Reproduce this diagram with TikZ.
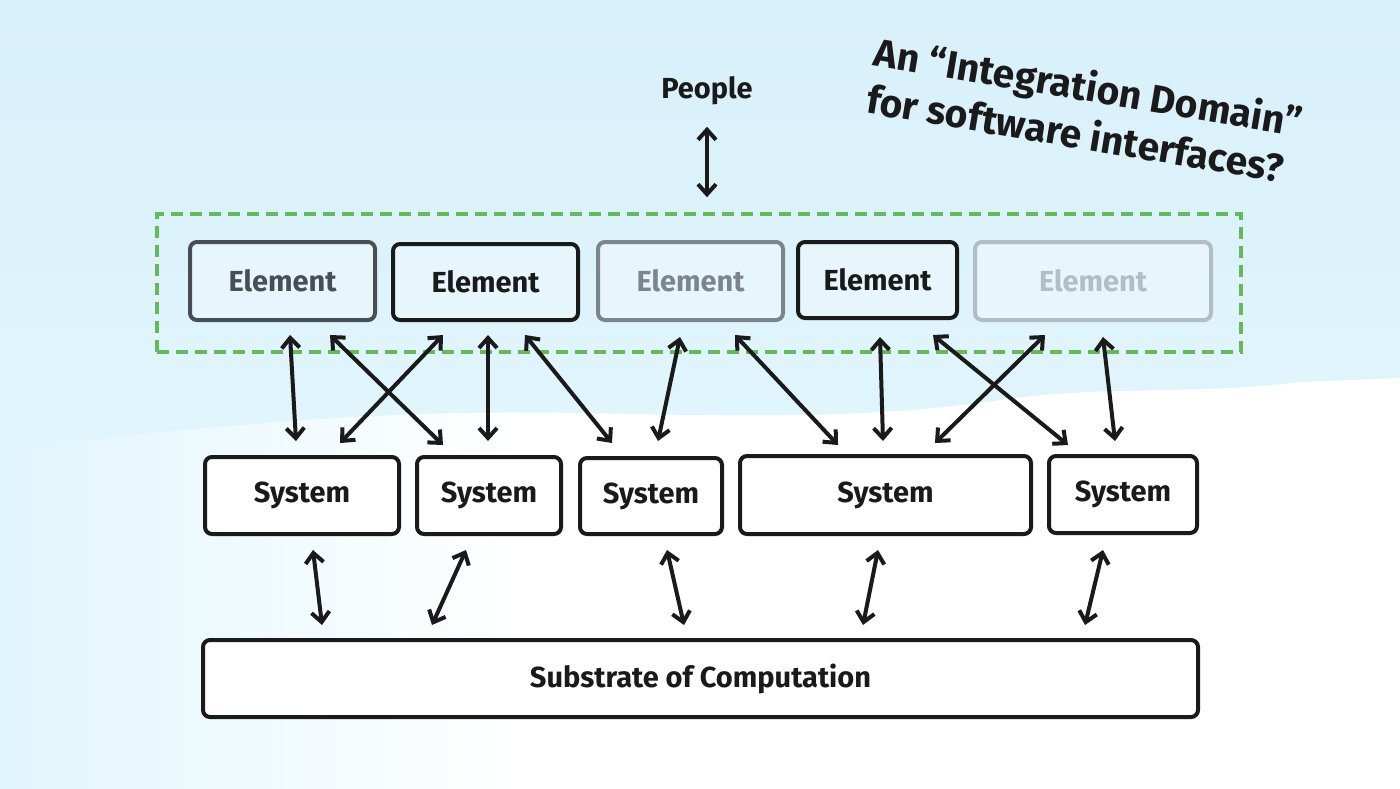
\documentclass[tikz,border=0pt]{standalone}
\usepackage{fontspec}
\setmainfont{Fira Sans}
\usetikzlibrary{arrows.meta,calc}
\definecolor{bgtop}{RGB}{216,240,251}
\definecolor{bgmid}{RGB}{225,245,252}
\definecolor{dashgreen}{RGB}{100,186,90}
\definecolor{ink}{RGB}{26,26,26}
\definecolor{eone}{RGB}{72,78,84}
\definecolor{ethree}{RGB}{125,133,140}
\definecolor{efive}{RGB}{178,190,196}
\begin{document}
\begin{tikzpicture}[x=1pt,y=-1pt,
  box/.style={draw=ink, line width=4pt, rounded corners=7pt, inner sep=0pt,
              font=\bfseries\fontsize{29}{32}\selectfont, text=ink},
  elem/.style={box, fill=white, fill opacity=0.3, text opacity=1},
  sys/.style={box, fill=white},
  arr/.style={draw=ink, line width=4pt, line cap=round,
              {Straight Barb[length=10pt,width=18pt]}-{Straight Barb[length=10pt,width=18pt]}},
]
\useasboundingbox (0,0) rectangle (1400,788);
% background
\fill[white] (0,0) rectangle (1400,788);
\shade[left color=bgmid, right color=white] (0,400) rectangle (520,788);
\shade[top color=bgtop, bottom color=bgmid]
  (0,0) -- (1400,0) -- (1400,378) -- (1300,382) .. controls (1200,395) and (1100,385) .. (1000,400)
  .. controls (800,430) and (600,405) .. (400,415) .. controls (250,420) and (100,440) .. (0,448) -- cycle;

% integration domain
\node[draw=dashgreen, dash pattern=on 12pt off 7pt, line width=3.6pt,
      minimum width=1084pt, minimum height=138pt, inner sep=0pt] (dom) at (699,283) {};

% people
\node[font=\bfseries\fontsize{29}{32}\selectfont, text=ink] (people) at (707,91) {People};
\draw[arr] ($(people.south)+(0,18)$) -- ($(dom.north)+(8,-15)$);

% elements
\node[elem, draw=eone, text=eone, minimum width=185pt, minimum height=78pt] (E1) at (282.5,281) {Element};
\node[elem, minimum width=185pt, minimum height=76pt] (E2) at (485.5,282) {Element};
\node[elem, draw=ethree, text=ethree, minimum width=185pt, minimum height=78pt] (E3) at (690.5,281) {Element};
\node[elem, minimum width=159pt, minimum height=76pt] (E4) at (877.5,280) {Element};
\node[elem, draw=efive, text=efive, minimum width=236pt, minimum height=78pt] (E5) at (1093,281) {Element};

% systems
\node[sys, minimum width=194pt, minimum height=77pt] (S1) at (302,495.5) {System};
\node[sys, minimum width=144pt, minimum height=77pt] (S2) at (489,495.5) {System};
\node[sys, minimum width=142pt, minimum height=76pt] (S3) at (651,496) {System};
\node[sys, minimum width=291pt, minimum height=78pt] (S4) at (885.5,495) {System};
\node[sys, minimum width=148pt, minimum height=77pt] (S5) at (1123,494.5) {System};

% substrate
\node[sys, minimum width=995pt, minimum height=77pt] (sub) at (700.5,678.5) {Substrate of Computation};

% element <-> system
\draw[arr] ($(E1.south)+(7.5,13)$) -- ($(S1.north)+(-6,-14)$);
\draw[arr] ($(E1.south)+(47.5,13)$) -- ($(S2.north)+(-46,-10)$);
\draw[arr] ($(E2.south)+(-42.5,13)$) -- ($(S1.north)+(38,-12)$);
\draw[arr] ($(E2.south)+(2.5,13)$) -- ($(S2.north)+(-1,-14)$);
\draw[arr] ($(E2.south)+(39.5,13)$) -- ($(S3.north)+(-39,-13)$);
\draw[arr] ($(E3.south)+(-10.5,15)$) -- ($(S3.north)+(7,-15)$);
\draw[arr] ($(E3.south)+(44.5,13)$) -- ($(S4.north)+(-47.5,-9)$);
\draw[arr] ($(E4.south)+(2.5,17)$) -- ($(S4.north)+(-2.5,-13)$);
\draw[arr] ($(E4.south)+(55.5,15)$) -- ($(S5.north)+(-55,-9)$);
\draw[arr] ($(E5.south)+(-48,13)$) -- ($(S4.north)+(49.5,-11)$);
\draw[arr] ($(E5.south)+(10,15)$) -- ($(S5.north)+(-8,-13)$);

% system <-> substrate
\draw[arr] ($(S1.south)+(11,14)$) -- ($(sub.north)+(-378.5,-13)$);
\draw[arr] ($(S2.south)+(-23,14)$) -- ($(sub.north)+(-268.5,-13)$);
\draw[arr] ($(S3.south)+(16,14)$) -- ($(sub.north)+(-16.5,-13)$);
\draw[arr] ($(S4.south)+(-7.5,14)$) -- ($(sub.north)+(162.5,-13)$);
\draw[arr] ($(S5.south)+(-20,15)$) -- ($(sub.north)+(384.5,-13)$);

% title
\node[rotate=-9.5, anchor=north west, align=left, inner sep=0pt, text=ink,
      font=\bfseries\fontsize{39}{48}\selectfont] (title) at (878,34)
  {An ``Integration Domain''\\for software interfaces?};
\end{tikzpicture}
\end{document}
